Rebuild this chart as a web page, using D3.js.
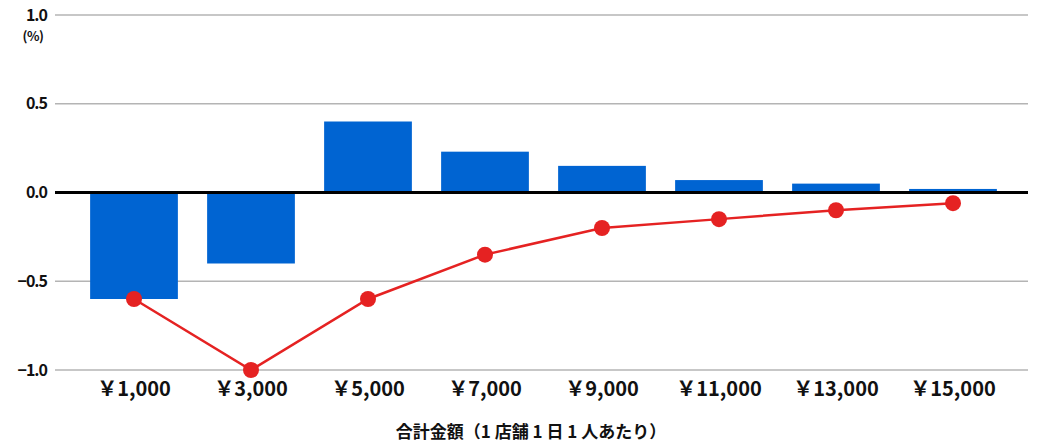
<!DOCTYPE html>
<html>
<head>
<meta charset="utf-8">
<script src="https://cdn.jsdelivr.net/npm/d3@7"></script>
<style>
	body { margin: 0; background: #fff; }
	svg { display: block; font-family: "Noto Sans CJK JP", "Noto Sans", sans-serif; }
</style>
</head>
<body>
<svg id="chart" width="1063" height="443"></svg>
<script>
// 合計金額ごとのカテゴリ
const categories = ["￥1,000", "￥3,000", "￥5,000", "￥7,000", "￥9,000", "￥11,000", "￥13,000", "￥15,000"];
// 棒グラフの値 (%)
const barValues = [-0.6, -0.4, 0.4, 0.23, 0.15, 0.07, 0.05, 0.02];
// 折れ線の値 (%)
const lineValues = [-0.6, -1.0, -0.6, -0.35, -0.2, -0.15, -0.1, -0.06];
const yTicks = [1.0, 0.5, 0.0, -0.5, -1.0];
const xTitle = "合計金額（1 店舗 1 日 1 人あたり）";

const svg = d3.select("#chart"),
	plotLeft = 55,
	plotRight = 1028;

const x = d3.scaleBand()
	.domain(categories)
	.range([75.5, 1011.5])
	.paddingInner(0.25)
	.paddingOuter(0.125);

const y = d3.scaleLinear()
	.domain([-1, 1])
	.range([370, 15]);

// グリッド線
svg.append("g")
	.selectAll("line")
	.data(yTicks.filter(function(d) { return d !== 0; }))
	.enter().append("line")
		.attr("x1", plotLeft)
		.attr("x2", plotRight)
		.attr("y1", function(d) { return y(d); })
		.attr("y2", function(d) { return y(d); })
		.attr("stroke", "#b4b4b4")
		.attr("stroke-width", 1.5);

// Y軸ラベル
svg.append("g")
	.selectAll("text")
	.data(yTicks)
	.enter().append("text")
		.attr("x", 47)
		.attr("y", function(d) { return y(d); })
		.attr("dy", "0.35em")
		.attr("text-anchor", "end")
		.attr("font-size", 16)
		.attr("font-weight", "bold")
		.attr("letter-spacing", -1)
		.attr("fill", "#111")
		.text(function(d) { return d3.format(".1f")(d); });

svg.append("text")
	.attr("x", 33)
	.attr("y", 36)
	.attr("dy", "0.35em")
	.attr("text-anchor", "middle")
	.attr("font-size", 13)
	.attr("font-weight", "bold")
	.attr("letter-spacing", -0.5)
	.attr("fill", "#111")
	.text("(%)");

// 棒
svg.append("g")
	.selectAll("rect")
	.data(barValues)
	.enter().append("rect")
		.attr("x", function(d, i) { return x(categories[i]); })
		.attr("width", x.bandwidth())
		.attr("y", function(d) { return Math.min(y(d), y(0)); })
		.attr("height", function(d) { return Math.abs(y(d) - y(0)); })
		.attr("fill", "#0064d2");

// ゼロ線
svg.append("line")
	.attr("x1", plotLeft)
	.attr("x2", plotRight)
	.attr("y1", y(0))
	.attr("y2", y(0))
	.attr("stroke", "#000")
	.attr("stroke-width", 3);

// 折れ線
const cx = function(d, i) { return x(categories[i]) + x.bandwidth() / 2; };

svg.append("path")
	.datum(lineValues)
	.attr("fill", "none")
	.attr("stroke", "#e52222")
	.attr("stroke-width", 2.5)
	.attr("d", d3.line()
		.x(cx)
		.y(function(d) { return y(d); }));

svg.append("g")
	.selectAll("circle")
	.data(lineValues)
	.enter().append("circle")
		.attr("cx", cx)
		.attr("cy", function(d) { return y(d); })
		.attr("r", 8)
		.attr("fill", "#e52222");

// X軸ラベル
svg.append("g")
	.selectAll("text")
	.data(categories)
	.enter().append("text")
		.attr("x", function(d) { return x(d) + x.bandwidth() / 2; })
		.attr("y", 389)
		.attr("dy", "0.35em")
		.attr("text-anchor", "middle")
		.attr("font-size", 20)
		.attr("font-weight", "bold")
		.attr("fill", "#111")
		.text(function(d) { return d; });

svg.append("text")
	.attr("x", 531)
	.attr("y", 432)
	.attr("dy", "0.35em")
	.attr("text-anchor", "middle")
	.attr("font-size", 17)
	.attr("font-weight", "bold")
	.attr("fill", "#111")
	.text(xTitle);
</script>
</body>
</html>
